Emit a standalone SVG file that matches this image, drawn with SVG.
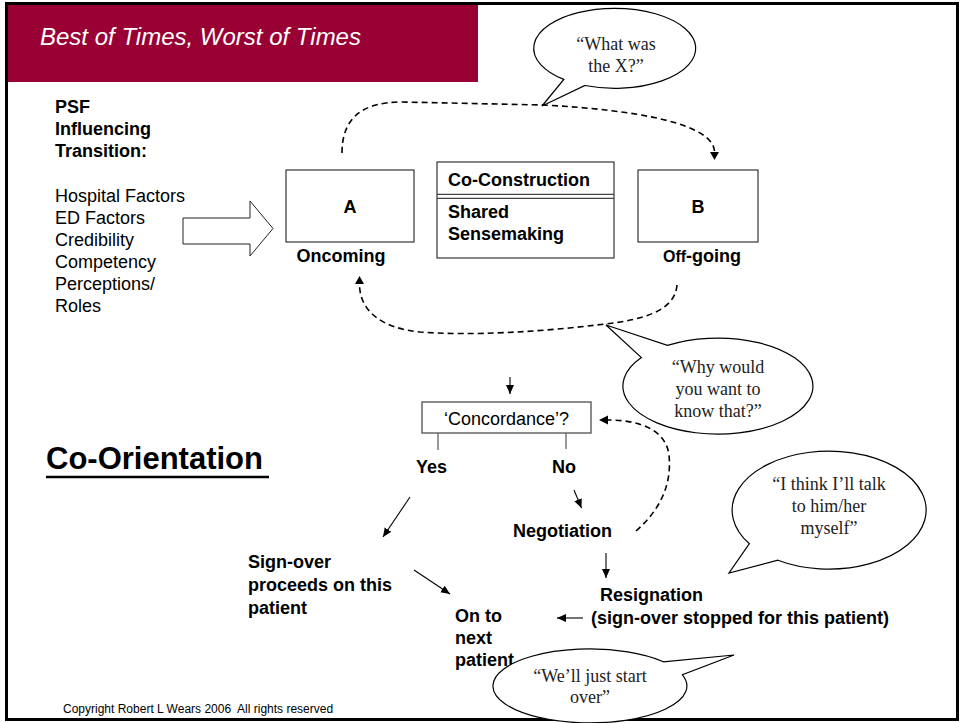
<svg xmlns="http://www.w3.org/2000/svg" width="963" height="723" viewBox="0 0 963 723">
  <style>
    .sans { font-family: "Liberation Sans", Arial, sans-serif; }
    .bold { font-family: "Liberation Sans", Arial, sans-serif; font-weight: bold; font-size: 18px; fill: #000; }
    .reg { font-family: "Liberation Sans", Arial, sans-serif; font-size: 18px; fill: #000; }
    .quote { font-family: "Liberation Serif", "Times New Roman", serif; font-size: 18px; fill: #222; text-anchor: middle; }
    .box { fill: #fff; stroke: #444; stroke-width: 1.3; }
    .bubble { fill: #fff; stroke: #000; stroke-width: 1.2; stroke-linejoin: miter; }
    .dash { fill: none; stroke: #000; stroke-width: 1.6; stroke-dasharray: 6 4; }
    .thin { fill: none; stroke: #000; stroke-width: 1.1; }
    .stub { stroke: #777; stroke-width: 1.5; }
  </style>
  <defs>
    <marker id="head" markerUnits="userSpaceOnUse" markerWidth="10" markerHeight="10" viewBox="0 0 10 10" refX="9" refY="5" orient="auto">
      <path d="M0,1 L9,5 L0,9 Z" fill="#000"/>
    </marker>
  </defs>

  <!-- slide background, frame and title banner -->
  <rect x="0" y="0" width="963" height="723" fill="#fff"/>
  <rect x="7" y="4" width="471" height="78" fill="#990033"/>
  <rect x="6.5" y="3.5" width="951" height="716" fill="none" stroke="#000" stroke-width="3"/>
  <text x="40" y="45" class="sans" font-size="24" font-style="italic" fill="#fff">Best of Times, Worst of Times</text>

  <!-- performance shaping factors list -->
  <g id="psf">
    <text class="bold" x="55" y="113">PSF</text>
    <text class="bold" x="55" y="135">Influencing</text>
    <text class="bold" x="55" y="157">Transition:</text>
    <text class="reg" x="55" y="202">Hospital Factors</text>
    <text class="reg" x="55" y="224">ED Factors</text>
    <text class="reg" x="55" y="246">Credibility</text>
    <text class="reg" x="55" y="268">Competency</text>
    <text class="reg" x="55" y="290">Perceptions/</text>
    <text class="reg" x="55" y="312">Roles</text>
  </g>

  <!-- connectors -->
  <g id="connectors">
    <path d="M183,218 L250,218 L250,201 L273,228.5 L250,256 L250,244 L183,244 Z" fill="#fff" stroke="#222" stroke-width="1"/>
    <path class="dash" d="M342,153 C342,118 362,102 402,102 L542,105 C640,110 712,124 714.5,151"/>
    <path d="M710,152 L719,152 L714.5,160 Z" fill="#000"/>
    <path class="dash" d="M677,285 C675,312 640,320 605,324 C540,332 470,336 420,332 C380,328 360,310 359.5,285"/>
    <path d="M355,284 L364,284 L359.5,276 Z" fill="#000"/>
    <path class="dash" d="M636,531 C660,510 672,485 669,455 C666,430 640,420 608,420"/>
    <path d="M608,415.5 L608,424.5 L599,420 Z" fill="#000"/>
    <line class="thin" x1="510" y1="377" x2="510" y2="394" marker-end="url(#head)"/>
    <line class="stub" x1="438" y1="433" x2="438" y2="450"/>
    <line class="stub" x1="566" y1="433" x2="566" y2="449"/>
    <line class="thin" x1="410" y1="497" x2="383" y2="537" marker-end="url(#head)"/>
    <line class="thin" x1="574" y1="490" x2="581.5" y2="508" marker-end="url(#head)"/>
    <line class="thin" x1="606" y1="553" x2="606" y2="578" marker-end="url(#head)"/>
    <line class="thin" x1="414" y1="570" x2="450" y2="594" marker-end="url(#head)"/>
    <line class="thin" x1="583" y1="618" x2="557" y2="618" marker-end="url(#head)"/>
  </g>

  <!-- handover roles -->
  <g id="node-a">
    <rect class="box" x="286" y="170" width="128" height="72"/>
    <text class="bold" x="350" y="213" text-anchor="middle">A</text>
    <text class="bold" x="341" y="262" text-anchor="middle">Oncoming</text>
  </g>
  <g id="node-co-construction">
    <rect class="box" x="437" y="162" width="177" height="96"/>
    <line x1="437" y1="194.3" x2="614" y2="194.3" stroke="#444" stroke-width="1.2"/>
    <line x1="437" y1="198.3" x2="614" y2="198.3" stroke="#444" stroke-width="1.2"/>
    <text class="bold" x="448" y="186">Co-Construction</text>
    <text class="bold" x="448" y="218">Shared</text>
    <text class="bold" x="448" y="240">Sensemaking</text>
  </g>
  <g id="node-b">
    <rect class="box" x="638" y="170" width="120" height="72"/>
    <text class="bold" x="698" y="213" text-anchor="middle">B</text>
    <text class="bold" x="702" y="262" text-anchor="middle"><tspan font-size="16">Off</tspan>-going</text>
  </g>

  <!-- co-orientation flow -->
  <g id="title-co-orientation">
    <text class="sans" x="46" y="469" font-size="31" font-weight="bold" fill="#000">Co-Orientation</text>
    <line x1="46" y1="477" x2="269" y2="477" stroke="#000" stroke-width="2.5"/>
  </g>
  <g id="node-concordance">
    <rect x="422" y="402" width="169" height="31" fill="#fff" stroke="#666" stroke-width="1.5"/>
    <text class="reg" x="506.5" y="425" font-size="16" text-anchor="middle">‘Concordance’?</text>
  </g>
  <g id="node-yes"><text class="bold" x="416" y="473">Yes</text></g>
  <g id="node-no"><text class="bold" x="552" y="473">No</text></g>
  <g id="node-negotiation"><text class="bold" x="513" y="537">Negotiation</text></g>
  <g id="node-sign-over">
    <text class="bold" x="248" y="568">Sign-over</text>
    <text class="bold" x="248" y="591">proceeds on this</text>
    <text class="bold" x="248" y="614">patient</text>
  </g>
  <g id="node-resignation">
    <text class="bold" x="600" y="601">Resignation</text>
    <text class="bold" x="591" y="624">(sign-over stopped for this patient)</text>
  </g>
  <g id="node-next-patient">
    <text class="bold" x="455" y="622">On to</text>
    <text class="bold" x="455" y="644">next</text>
    <text class="bold" x="455" y="666">patient</text>
  </g>

  <!-- speech bubbles -->
  <g id="bubble-what">
    <path class="bubble" d="M585,85.5 A81,40 0 1 0 563.8,79.4 L542,106 Z"/>
    <text class="quote" x="616" y="50">“What was</text>
    <text class="quote" x="616" y="72">the X?”</text>
  </g>
  <g id="bubble-why">
    <path class="bubble" d="M667.4,345.4 A95,48 0 1 1 641.4,357.6 L606,325 Z"/>
    <text class="quote" x="718" y="373">“Why would</text>
    <text class="quote" x="718" y="395">you want to</text>
    <text class="quote" x="718" y="417">know that?”</text>
  </g>
  <g id="bubble-talk">
    <path class="bubble" d="M777.9,560.2 A97,59 0 1 0 749.4,543.7 L729,573 Z"/>
    <text class="quote" x="829" y="490">“I think I’ll talk</text>
    <text class="quote" x="829" y="512">to him/her</text>
    <text class="quote" x="829" y="534">myself”</text>
  </g>
  <g id="bubble-start-over">
    <path class="bubble" d="M663.4,661.8 A97,37 0 1 0 682.4,674.8 L734,655 Z"/>
    <text class="quote" x="590" y="682">“We’ll just start</text>
    <text class="quote" x="590" y="703">over”</text>
  </g>

  <text class="sans" x="63" y="713" font-size="12" fill="#000" xml:space="preserve">Copyright Robert L Wears 2006  All rights reserved</text>
</svg>
